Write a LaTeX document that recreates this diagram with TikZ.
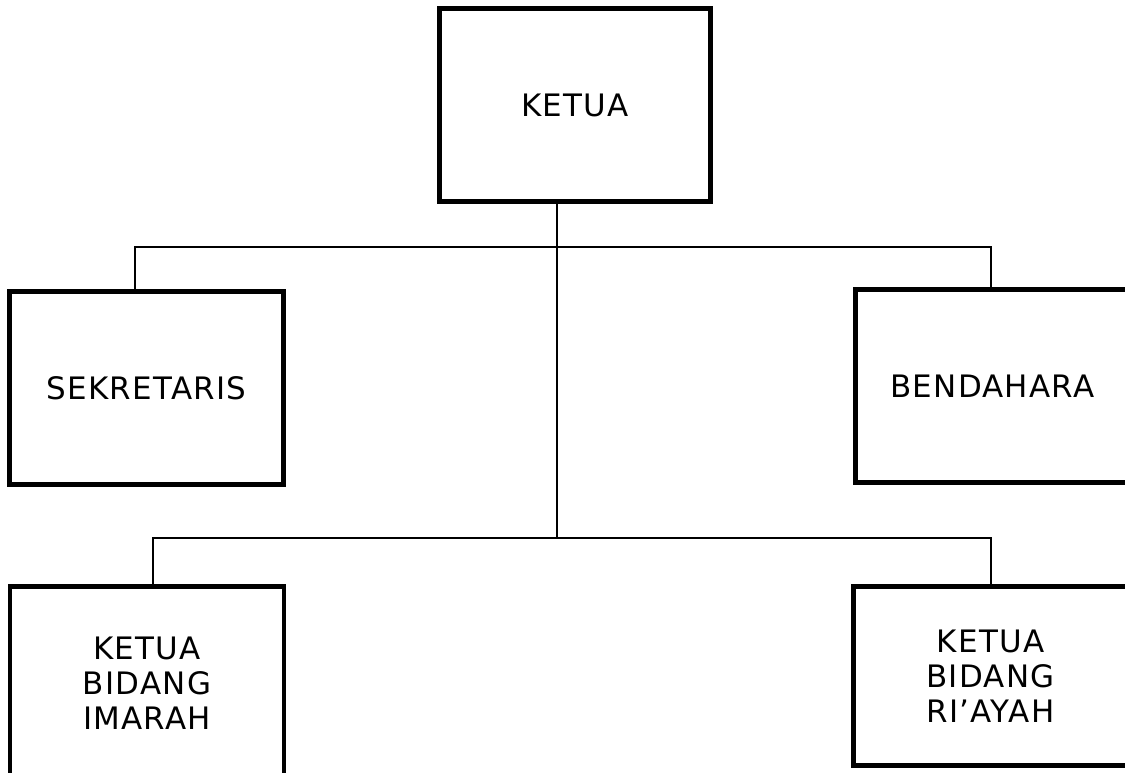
\documentclass[tikz,border=0pt]{standalone}
\usepackage{fontspec}
\setmainfont{DejaVu Sans}[LetterSpace=4]
\usepackage{tikz}

\begin{document}
\begin{tikzpicture}[
    x=0.025cm, y=-0.025cm,
    jabatan/.style={draw, line width=3.5pt, align=center, inner sep=0pt,
        minimum width=6.85cm, minimum height=4.825cm,
        font=\fontsize{22}{24.9}\selectfont},
    garis/.style={line width=1.4pt}
]
\useasboundingbox (0,0) rectangle (1125,773);

% Boxes of the board
\node[jabatan, minimum width=6.775cm] (ketua) at (575,105) {KETUA};
\node[jabatan] (sekretaris) at (146.5,388) {SEKRETARIS};
\node[jabatan] (bendahara) at (992.5,386) {BENDAHARA};
\node[jabatan] (imarah) at (147,683) {KETUA\\BIDANG\\IMARAH};
\node[jabatan, minimum height=4.475cm] (riayah) at (990.5,676) {KETUA\\BIDANG\\RI'AYAH};

% Branch points
\coordinate (kiri1) at (135,247);
\coordinate (kanan1) at (991,247);
\coordinate (kiri2) at (153,538);
\coordinate (kanan2) at (991,538);
\coordinate (tengah) at (557,538);

% Lines
\draw[garis] (ketua.south -| tengah) -- (tengah);
\draw[garis] (kiri1 |- sekretaris.north) -- (kiri1) -- (kanan1) -- (kanan1 |- bendahara.north);
\draw[garis] (kiri2 |- imarah.north) -- (kiri2) -- (kanan2) -- (kanan2 |- riayah.north);
\end{tikzpicture}
\end{document}
